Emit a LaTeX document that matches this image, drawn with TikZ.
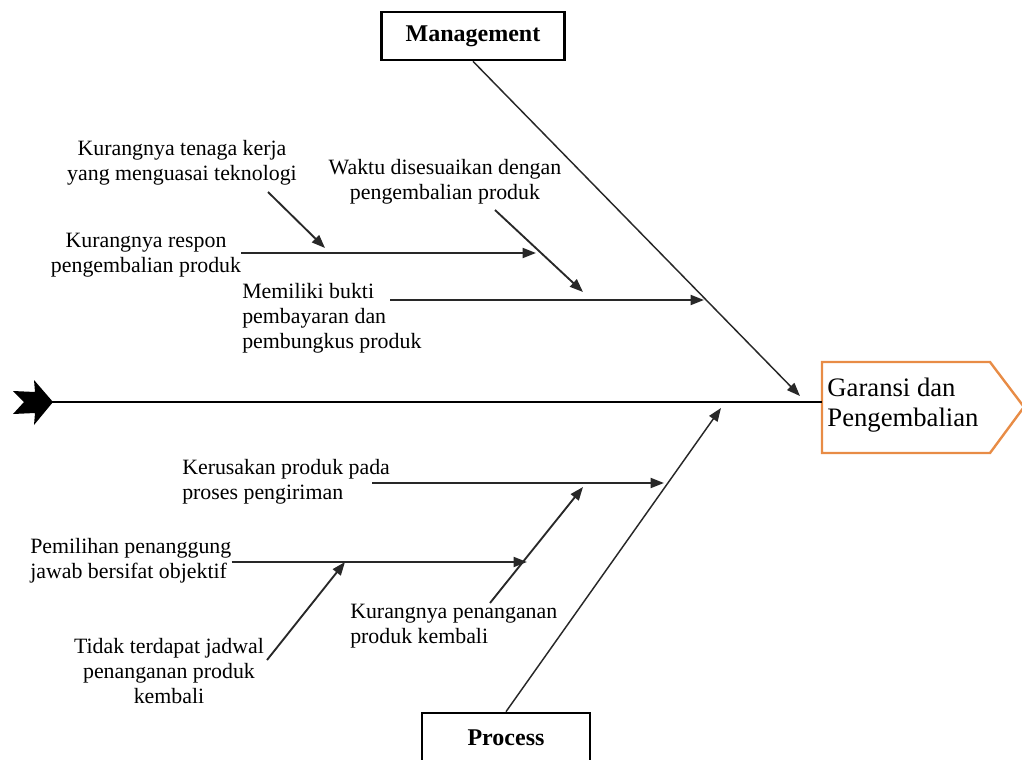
\documentclass[tikz,border=0pt]{standalone}
\usepackage{fontspec}
\setmainfont{Liberation Serif}
\usetikzlibrary{arrows.meta}
\definecolor{effectorange}{RGB}{232,140,70}
\definecolor{boneink}{RGB}{40,40,40}
\begin{document}
\begin{tikzpicture}[x=0.75pt,y=-0.75pt,
  cause/.style={font=\fontsize{16.4}{18.8}\selectfont, align=center, inner sep=0pt},
  causeleft/.style={cause, align=left},
  category/.style={draw, line width=2pt, font=\fontsize{18}{21}\selectfont\bfseries, inner sep=0pt},
  tip/.style={-{Triangle[length=10pt,width=7.5pt]}},
  bone/.style={tip, draw=boneink, line width=1.1pt},
  subbone/.style={tip, draw=boneink, line width=1.4pt},
]
\useasboundingbox (0,0) rectangle (1022,760);

% head of the fish: the effect
\coordinate (e1) at (822,362);
\coordinate (e2) at (990,362);
\coordinate (e3) at (1024,407);
\coordinate (e4) at (990,453);
\coordinate (e5) at (822,453);
\draw[effectorange, line width=1.8pt, line join=miter] (e1) -- (e2) -- (e3) -- (e4) -- (e5) -- cycle;
\node[font=\fontsize{20}{22}\selectfont, align=left, inner sep=0pt] (effect) at (903,405) {Garansi dan\\Pengembalian};

% spine with its tail
\coordinate (tail) at (52,402);
\coordinate (spineend) at (822,402);
\fill (53,402) -- (34,380) -- (35,392) -- (13,391) -- (24,402) -- (13,414) -- (35,413) -- (34,425) -- cycle;
\draw[line width=2.2pt] (tail) -- (spineend);

% category boxes
\node[category, minimum width=137pt, minimum height=36pt] (mgmt) at (473,36) {Management};
\node[category, minimum width=126pt, minimum height=37.5pt] (proc) at (506,738) {Process};

% main bones
\coordinate (mgmttip) at (800,396);
\coordinate (proctip) at (721,408);
\draw[bone] (mgmt.south) -- (mgmttip);
\draw[bone] (proc.north) -- (proctip);

% causes under Management
\node[cause] (tenaga) at (182,163) {Kurangnya tenaga kerja\\yang menguasai teknologi};
\node[cause] (respon) at (146,255) {Kurangnya respon\\pengembalian produk};
\node[cause] (waktu) at (445,182) {Waktu disesuaikan dengan\\pengembalian produk};
\node[causeleft, anchor=west] (bukti) at (242,318) {Memiliki bukti\\pembayaran dan\\pembungkus produk};

\coordinate (responend) at (536,253);
\coordinate (tenagastart) at (268,192);
\coordinate (tenagaend) at (325,248);
\coordinate (waktustart) at (495,210);
\coordinate (waktuend) at (583,292);
\coordinate (buktistart) at (390,300);
\coordinate (buktiend) at (704,300);

\draw[subbone] (respon.east |- responend) -- (responend);
\draw[subbone] (tenagastart) -- (tenagaend);
\draw[subbone] (waktustart) -- (waktuend);
\draw[subbone] (buktistart) -- (buktiend);

% causes under Process
\node[causeleft, anchor=west] (rusak) at (182,482) {Kerusakan produk pada\\proses pengiriman};
\node[causeleft, anchor=west] (pilih) at (30,561) {Pemilihan penanggung\\jawab bersifat objektif};
\node[causeleft, anchor=west] (tangani) at (350,626) {Kurangnya penanganan\\produk kembali};
\node[cause] (jadwal) at (169,671) {Tidak terdapat jadwal\\penanganan produk\\kembali};

\coordinate (rusakstart) at (372,483);
\coordinate (rusakend) at (664,483);
\coordinate (pilihend) at (527,562);
\coordinate (tanganistart) at (490,603);
\coordinate (tanganiend) at (583,487);
\coordinate (jadwalstart) at (267,660);
\coordinate (jadwalend) at (345,562);

\draw[subbone] (rusakstart) -- (rusakend);
\draw[subbone] (pilih.east |- pilihend) -- (pilihend);
\draw[subbone] (tanganistart) -- (tanganiend);
\draw[subbone] (jadwalstart) -- (jadwalend);
\end{tikzpicture}
\end{document}
